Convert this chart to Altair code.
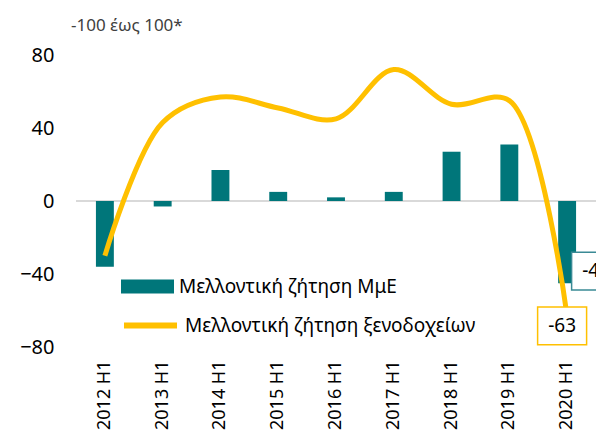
import altair as alt
import pandas as pd

periods = ["2012 H1", "2013 H1", "2014 H1", "2015 H1", "2016 H1", "2017 H1", "2018 H1", "2019 H1", "2020 H1"]
sme_demand = [-36, -3, 17, 5, 2, 5, 27, 31, -45]
hotel_demand = [-30, 43, 57, 51, 45, 72, 53, 55, -63]
bar_name = "Μελλοντική ζήτηση ΜμΕ"
line_name = "Μελλοντική ζήτηση ξενοδοχείων"
title_text = "-100 έως 100*"

TEAL = "#00767A"
GOLD = "#FFC000"
FONT = "Noto Sans"

df = pd.DataFrame({"period": periods, "sme": sme_demand, "hotel": hotel_demand,
                   "bar_s": [bar_name] * len(periods), "line_s": [line_name] * len(periods)})
df["sme_lbl"] = df["sme"].astype(str)
df["hotel_lbl"] = df["hotel"].astype(str)
last = df.iloc[[-1]].copy()

xaxis = alt.Axis(title=None, labelAngle=-90, labelAlign="right", labelBaseline="middle")
xscale = alt.Scale(paddingInner=0.69, paddingOuter=0.345)
yscale = alt.Scale(domain=[-80, 80], nice=False)
yaxis = alt.Axis(title=None, values=[-80, -40, 0, 40, 80])


def X():
    return alt.X("period:N", sort=periods, scale=xscale, axis=xaxis)


def Y(field):
    return alt.Y(field, scale=yscale, axis=yaxis)


zero = alt.Chart(df).mark_rule(color="#d9d9d9", strokeWidth=1.5).encode(
    y=Y("z:Q")).transform_calculate(z="0")

bars = alt.Chart(df).mark_bar(color=TEAL).encode(
    x=X(),
    y=Y("sme:Q"),
    fill=alt.Fill("bar_s:N", scale=alt.Scale(range=[TEAL]),
                  legend=alt.Legend(title=None, orient="none", legendX=45, legendY=205,
                                    symbolType="M-1,-0.26L1,-0.26L1,0.26L-1,0.26Z",
                                    symbolSize=2809, symbolStrokeWidth=0,
                                    labelFontSize=19, labelFont=FONT, labelColor="#000000",
                                    labelOffset=5, labelLimit=0)),
)

line = alt.Chart(df).mark_line(strokeWidth=5, interpolate="catmull-rom").encode(
    x=X(),
    y=Y("hotel:Q"),
    stroke=alt.Stroke("line_s:N", scale=alt.Scale(range=[GOLD]),
                      legend=alt.Legend(title=None, orient="none", legendX=45, legendY=241,
                                        symbolType="stroke", symbolStrokeWidth=6, symbolSize=2809,
                                        labelFontSize=19, labelFont=FONT, labelColor="#000000",
                                        labelOffset=5, labelLimit=0)),
)

box_shape = "M-1,-0.77L1,-0.77L1,0.77L-1,0.77Z"
box_bar = alt.Chart(last).mark_point(shape=box_shape, size=2400, filled=False, fill="white",
                                     fillOpacity=1, stroke="#3A8A95", strokeWidth=1.5,
                                     xOffset=29, yOffset=-12, opacity=1).encode(
    x=X(), y=Y("sme:Q"))
txt_bar = alt.Chart(last).mark_text(fontSize=19, font=FONT, color="#000000", dx=29, dy=-12,
                                    align="center", baseline="middle").encode(
    x=X(), y=Y("sme:Q"), text="sme_lbl:N")

box_line = alt.Chart(last).mark_point(shape=box_shape, size=2400, filled=False, fill="white",
                                      fillOpacity=1, stroke=GOLD, strokeWidth=1.5,
                                      xOffset=-5, yOffset=10, opacity=1).encode(
    x=X(), y=Y("hotel:Q"))
txt_line = alt.Chart(last).mark_text(fontSize=19, font=FONT, color="#000000", dx=-5, dy=10,
                                     align="center", baseline="middle").encode(
    x=X(), y=Y("hotel:Q"), text="hotel_lbl:N")

chart = alt.layer(zero, bars, line, box_bar, txt_bar, box_line, txt_line).resolve_legend(
    fill="independent", stroke="independent"
).properties(
    width=520, height=292,
    autosize=alt.AutoSizeParams(type="none"),
    padding={"left": 68, "top": 47, "right": 0, "bottom": 87},
    title=alt.TitleParams(title_text, anchor="start", frame="group", fontSize=17, font=FONT,
                          fontWeight="normal", color="#404040", dx=-5, offset=10),
).configure_view(stroke=None).configure_axisY(
    labelFontSize=20, labelColor="#000000", labelFont=FONT, ticks=False, tickSize=0,
    domain=False, grid=False, labelPadding=22, labelAlign="right"
).configure_axisX(
    labelFontSize=18, labelColor="#000000", labelFont=FONT, ticks=False, tickSize=0,
    domain=False, grid=False, labelPadding=13
)

chart.save("out.html", embed_options={"renderer": "svg", "actions": False})
